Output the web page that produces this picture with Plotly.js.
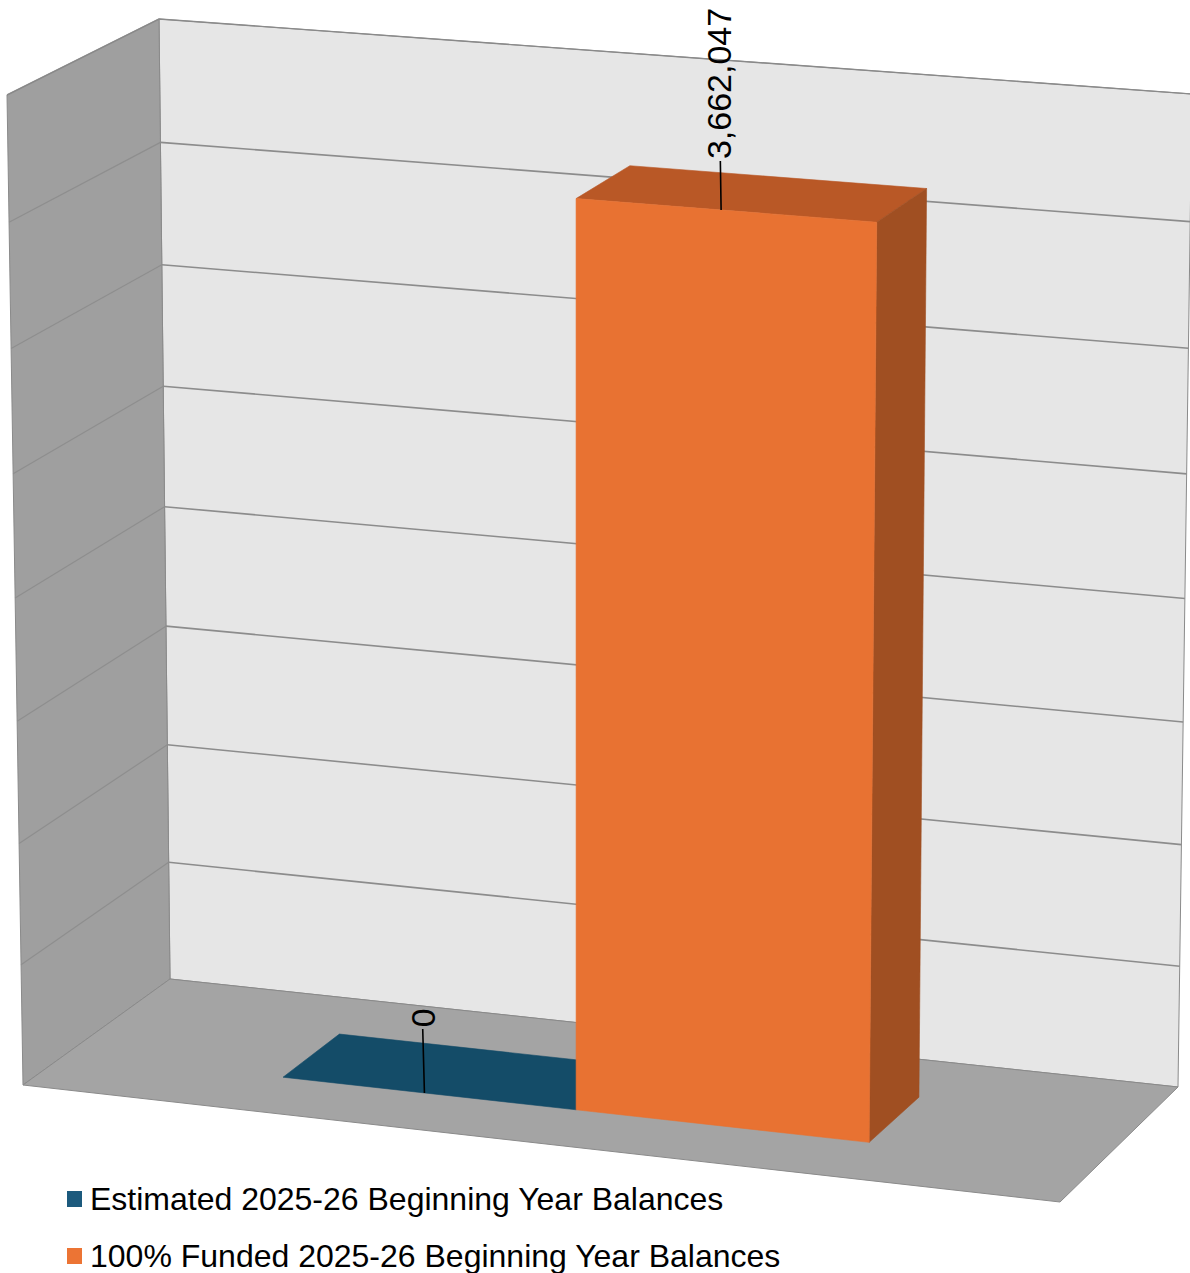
<!DOCTYPE html>
<html>
<head>
<meta charset="utf-8">
<script src="https://cdn.plot.ly/plotly-3.0.1.min.js"></script>
<style>
  html, body { margin: 0; padding: 0; background: #ffffff; }
  #chart { width: 1190px; height: 1273px; }
</style>
</head>
<body>
<div id="chart"></div>
<script>
// ---- data ----
const seriesNames = [
  "Estimated 2025-26 Beginning Year Balances",
  "100% Funded 2025-26 Beginning Year Balances"
];
const seriesValues = [0, 3662047];
const axisMin = 0;
const axisMax = 4000000;
const gridStep = 500000;

// ---- styles ----
const seriesColors = [
  { legend: "#1C5A7D", front: "#1A5476", top: "#144C68", side: "#0F3D55" },
  { legend: "#EC7434", front: "#E87232", top: "#B95826", side: "#A04F22" }
];
const wallColors = { back: "#E6E6E6", left: "#9F9F9F", floor: "#A4A4A4", edge: "#8A8A8A", grid: "#8C8C8C" };
const fontFamily = "Liberation Sans, Arial, Helvetica, sans-serif";

// Plot box in screen space: u runs along the back wall, t up the value axis,
// z from the back wall (0) toward the viewer (1).
const W = 1190, H = 1273;
const corners = {
  "000": [170, 979],  "010": [159, 19],
  "100": [1178, 1087], "110": [1192, 94],
  "001": [23, 1085],  "011": [7, 95],
  "101": [1060, 1202], "111": [1075, 177]
};
function proj(u, t, z) {
  let x = 0, y = 0;
  for (const a of [0, 1]) for (const b of [0, 1]) for (const c of [0, 1]) {
    const w = (a ? u : 1 - u) * (b ? t : 1 - t) * (c ? z : 1 - z);
    const p = corners["" + a + b + c];
    x += w * p[0]; y += w * p[1];
  }
  return [x, y];
}
// value -> vertical fraction of the wall (slight perspective foreshortening)
const persp = 0.9685;
function vfrac(v) {
  const t = (v - axisMin) / (axisMax - axisMin);
  return t * persp / (1 + (persp - 1) * t);
}

function face(pts, fill, lineColor, lineWidth) {
  const xy = pts.map(p => proj(p[0], p[1], p[2]));
  xy.push(xy[0]);
  return {
    type: "scatter", mode: "lines", fill: "toself",
    x: xy.map(p => p[0]), y: xy.map(p => p[1]),
    fillcolor: fill,
    line: { color: lineColor || fill, width: lineWidth === undefined ? 0.6 : lineWidth },
    hoverinfo: "skip", showlegend: false
  };
}
function polyline(segments, color, width) {
  const xs = [], ys = [];
  segments.forEach(seg => {
    seg.forEach(p => { const q = proj(p[0], p[1], p[2]); xs.push(q[0]); ys.push(q[1]); });
    xs.push(null); ys.push(null);
  });
  return {
    type: "scatter", mode: "lines", x: xs, y: ys,
    line: { color: color, width: width }, hoverinfo: "skip", showlegend: false
  };
}

const traces = [];

// walls and floor
traces.push(face([[0,0,0],[1,0,0],[1,1,0],[0,1,0]], wallColors.back, wallColors.edge, 1));
traces.push(face([[0,0,0],[0,1,0],[0,1,1],[0,0,1]], wallColors.left, wallColors.edge, 1));
traces.push(face([[0,0,0],[1,0,0],[1,0,1],[0,0,1]], wallColors.floor, wallColors.edge, 1));

// gridlines on back and side walls
const backGrid = [], sideGrid = [];
for (let v = axisMin + gridStep; v < axisMax; v += gridStep) {
  const t = vfrac(v);
  backGrid.push([[0, t, 0], [1, t, 0]]);
  sideGrid.push([[0, t, 0], [0, t, 1]]);
}
traces.push(polyline(backGrid, wallColors.grid, 1.6));
traces.push(polyline(sideGrid, "#8E8E8E", 1.2));
// top edges of the walls
traces.push(polyline([[[0,1,1],[0,1,0],[1,1,0]]], wallColors.edge, 1.4));

// bars (clustered, one category)
const barLayout = { left: 0.21, width: 0.285, zBack: 0.30, zFront: 0.70 };
const annotations = [];
const labelOffsets = [-75, -126];

seriesValues.forEach((val, i) => {
  const u0 = barLayout.left + i * barLayout.width;
  const u1 = u0 + barLayout.width;
  const zb = barLayout.zBack, zf = barLayout.zFront;
  const t = vfrac(val);
  const c = seriesColors[i];
  traces.push(face([[u0,t,zb],[u1,t,zb],[u1,t,zf],[u0,t,zf]], c.top));
  if (t > 0) {
    traces.push(face([[u1,0,zf],[u1,0,zb],[u1,t,zb],[u1,t,zf]], c.side));
    traces.push(face([[u0,0,zf],[u1,0,zf],[u1,t,zf],[u0,t,zf]], c.front));
  }
  const anchor = proj((u0 + u1) / 2 - 0.005, t, zf);
  annotations.push({
    x: anchor[0], y: anchor[1], xref: "x", yref: "y",
    text: val.toLocaleString("en-US"),
    textangle: -90,
    font: { family: fontFamily, size: 34, color: "#000000" },
    showarrow: true, arrowhead: 0, arrowwidth: 1.6, arrowcolor: "#000000",
    ax: -2, ay: labelOffsets[i], standoff: 0, startstandoff: 0
  });
});

// legend
const shapes = [];
const legendRows = [1199, 1256];
seriesNames.forEach((name, i) => {
  const yc = legendRows[i];
  shapes.push({
    type: "rect", xref: "x", yref: "y",
    x0: 67, x1: 82, y0: yc - 8, y1: yc + 8,
    fillcolor: seriesColors[i].legend, line: { width: 0 }
  });
  annotations.push({
    x: 88, y: yc, xref: "x", yref: "y", xanchor: "left", yanchor: "middle",
    text: name, showarrow: false,
    font: { family: fontFamily, size: 32, color: "#000000" }
  });
});

const layout = {
  width: W, height: H,
  margin: { l: 0, r: 0, t: 0, b: 0, pad: 0 },
  paper_bgcolor: "#ffffff", plot_bgcolor: "#ffffff",
  showlegend: false,
  xaxis: { range: [0, W], visible: false, fixedrange: true },
  yaxis: { range: [H, 0], visible: false, fixedrange: true },
  shapes: shapes,
  annotations: annotations,
  hovermode: false
};

Plotly.newPlot("chart", traces, layout, { staticPlot: true, displayModeBar: false });
</script>
</body>
</html>
